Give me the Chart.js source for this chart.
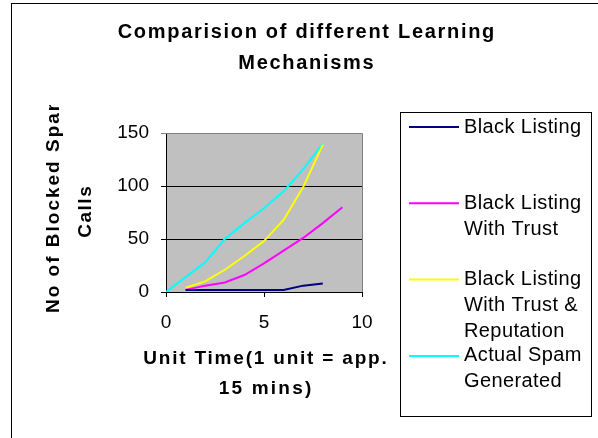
<!DOCTYPE html>
<html>
<head>
<meta charset="utf-8">
<script src="https://cdn.jsdelivr.net/npm/chart.js@4/dist/chart.umd.min.js"></script>
<style>
  html, body { margin: 0; padding: 0; background: #fff; overflow: hidden; }
  #wrap { position: relative; width: 598px; height: 438px; }
  #frame { position: absolute; left: 11px; top: 3px; width: 700px; height: 600px; border: 1px solid #000; box-sizing: border-box; pointer-events: none; }
  canvas { position: absolute; left: 0; top: 0; }
</style>
</head>
<body>
<div id="wrap">
  <canvas id="lineChart" width="598" height="438"></canvas>
  <div id="frame"></div>
</div>
<script>
'use strict'

const titleLines = ['Comparision of different Learning', 'Mechanisms'];
const yTitleLines = ['No of Blocked Spam', 'Calls'];
const xTitleLines = ['Unit Time(1 unit = app.', '15 mins)'];

const seriesNames = [
  ['Black Listing'],
  ['Black Listing', 'With Trust'],
  ['Black Listing', 'With Trust &', 'Reputation'],
  ['Actual Spam', 'Generated']
];
const seriesColors = ['#000080', '#ff00ff', '#ffff00', '#00ffff'];

const blackX = [1, 2, 3, 4, 5, 6, 7, 8];
const blackY = [2, 2, 2, 2, 2, 2, 6, 8];
const trustX = [1, 2, 3, 4, 5, 6, 7, 8, 9];
const trustY = [2, 6, 9, 16, 27, 39, 51, 65, 80];
const reputationX = [1, 2, 3, 4, 5, 6, 7, 8];
const reputationY = [4, 10, 21, 34, 48, 68, 99, 139];
const actualX = [0, 1, 2, 3, 4, 5, 6, 7, 8];
const actualY = [0, 14, 28, 50, 65, 79, 95, 116, 140];

const xTicks = [0, 5, 10];
const yTicks = [0, 50, 100, 150];

const seriesX = [blackX, trustX, reputationX, actualX];
const seriesY = [blackY, trustY, reputationY, actualY];

const FONT = '"Liberation Sans", Arial, sans-serif';

{
  const datasets = seriesNames.map((name, i) => ({
    label: name.join(' '),
    data: seriesX[i].map((x, j) => ({ x: x, y: seriesY[i][j] })),
    borderColor: seriesColors[i],
    backgroundColor: seriesColors[i],
    borderWidth: 2,
    pointRadius: 0,
    showLine: true,
    tension: 0,
  }));

  // centred text with letter spacing (canvas adds spacing after the last glyph too)
  function spacedCentered(ctx, text, x, y, spacing) {
    ctx.letterSpacing = spacing + 'px';
    ctx.textAlign = 'center';
    ctx.fillText(text, x + spacing / 2, y);
    ctx.letterSpacing = '0px';
  }

  // background, borders, titles and the multi-line legend
  const decor = {
    id: 'decor',
    beforeDraw(chart) {
      const { ctx, chartArea: a } = chart;
      ctx.save();
      ctx.fillStyle = '#c0c0c0';
      ctx.fillRect(a.left, a.top, a.right - a.left, a.bottom - a.top);
      ctx.restore();
    },
    beforeDatasetsDraw(chart) {
      const { ctx, chartArea: a } = chart;
      ctx.save();
      ctx.strokeStyle = '#808080';
      ctx.lineWidth = 1;
      ctx.beginPath();
      ctx.moveTo(a.left, Math.round(a.top) + 0.5);
      ctx.lineTo(Math.round(a.right) + 0.5, Math.round(a.top) + 0.5);
      ctx.lineTo(Math.round(a.right) + 0.5, a.bottom);
      ctx.stroke();
      ctx.restore();
    },
    afterDraw(chart) {
      const ctx = chart.ctx;
      ctx.save();
      ctx.fillStyle = '#000';
      ctx.textBaseline = 'alphabetic';

      // chart title
      ctx.font = 'bold 20px ' + FONT;
      spacedCentered(ctx, titleLines[0], 306, 38, 1.7);
      spacedCentered(ctx, titleLines[1], 306, 69, 1.7);

      // x title
      ctx.font = 'bold 19px ' + FONT;
      spacedCentered(ctx, xTitleLines[0], 265, 364, 1.8);
      spacedCentered(ctx, xTitleLines[1], 265, 394, 2.2);

      // y title (clipped at the top like the original)
      ctx.save();
      ctx.beginPath();
      ctx.rect(0, 105, 160, 333);
      ctx.clip();
      ctx.translate(59, 313);
      ctx.rotate(-Math.PI / 2);
      ctx.textAlign = 'left';
      ctx.letterSpacing = '2px';
      ctx.fillText(yTitleLines[0], 0, 0);
      ctx.restore();
      ctx.save();
      ctx.translate(91, 212);
      ctx.rotate(-Math.PI / 2);
      spacedCentered(ctx, yTitleLines[1], 0, 0, 1.5);
      ctx.restore();

      // legend
      ctx.strokeStyle = '#000';
      ctx.lineWidth = 1;
      ctx.strokeRect(400.5, 112.5, 191, 304);
      ctx.font = '20px ' + FONT;
      ctx.textAlign = 'left';
      ctx.textBaseline = 'middle';
      ctx.letterSpacing = '0.4px';
      seriesNames.forEach((lines, i) => {
        const y0 = 127 + 76.3 * i;
        ctx.strokeStyle = seriesColors[i];
        ctx.lineWidth = 2;
        ctx.beginPath();
        ctx.moveTo(409, y0);
        ctx.lineTo(459, y0);
        ctx.stroke();
        lines.forEach((t, k) => ctx.fillText(t, 464, y0 + 26 * k));
      });
      ctx.letterSpacing = '0px';
      ctx.restore();
    }
  };

  const options = {
    responsive: false,
    animation: false,
    layout: { padding: { left: 0, top: 133, right: 236, bottom: 0 } },
    scales: {
      x: {
        type: 'linear',
        min: 0,
        max: 10,
        afterFit: (s) => { s.height = 146; },
        afterBuildTicks: (s) => { s.ticks = xTicks.map(v => ({ value: v })); },
        grid: { drawOnChartArea: false, drawTicks: true, tickLength: 5, color: '#000' },
        border: { color: '#000', width: 1 },
        ticks: { color: '#000', font: { family: FONT, size: 19 }, padding: 14, maxRotation: 0 },
      },
      y: {
        type: 'linear',
        min: 0,
        max: 150,
        afterFit: (s) => { s.width = 166; },
        afterBuildTicks: (s) => { s.ticks = yTicks.map(v => ({ value: v })); },
        grid: {
          tickLength: 5,
          color: (c) => (c.tick && c.tick.value === 150 ? '#808080' : '#000'),
        },
        border: { color: '#000', width: 1 },
        ticks: { color: '#000', font: { family: FONT, size: 19 }, padding: 12 },
      },
    },
    plugins: {
      legend: { display: false },
      title: { display: false },
      tooltip: { enabled: false },
    },
  };

  const ctx = document.getElementById('lineChart').getContext('2d');
  const spamChart = new Chart(ctx, {
    type: 'scatter',
    data: { datasets: datasets },
    options: options,
    plugins: [decor],
  });
}
</script>
</body>
</html>
